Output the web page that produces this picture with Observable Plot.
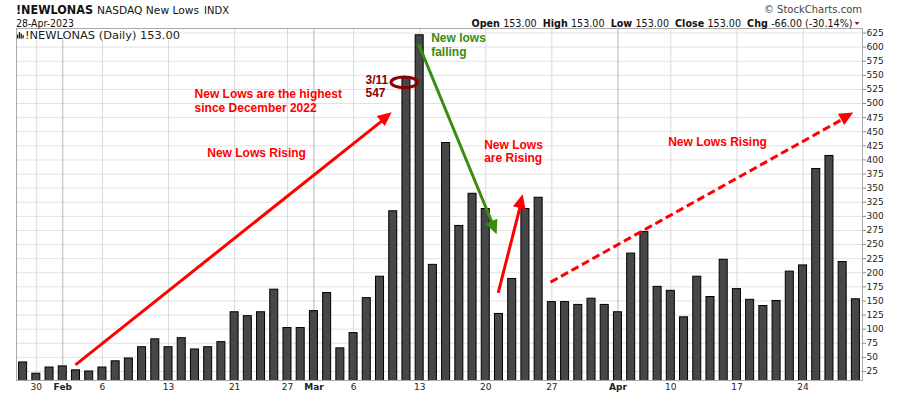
<!DOCTYPE html>
<html><head><meta charset="utf-8">
<script src="https://cdn.jsdelivr.net/npm/d3@7"></script>
<script src="https://cdn.jsdelivr.net/npm/@observablehq/plot@0.6"></script>
<style>
body{margin:0;background:#fff;}
#wrap{width:900px;height:396px;}
</style></head><body><div id="wrap"></div>
<script>
// ---- data ----
const dates = [
"2023-01-27","2023-01-30","2023-01-31",
"2023-02-01","2023-02-02","2023-02-03","2023-02-06","2023-02-07","2023-02-08","2023-02-09","2023-02-10",
"2023-02-13","2023-02-14","2023-02-15","2023-02-16","2023-02-17","2023-02-21","2023-02-22","2023-02-23","2023-02-24",
"2023-02-27","2023-02-28",
"2023-03-01","2023-03-02","2023-03-03","2023-03-06","2023-03-07","2023-03-08","2023-03-09","2023-03-10",
"2023-03-13","2023-03-14","2023-03-15","2023-03-16","2023-03-17","2023-03-20","2023-03-21","2023-03-22","2023-03-23","2023-03-24",
"2023-03-27","2023-03-28","2023-03-29","2023-03-30","2023-03-31",
"2023-04-03","2023-04-04","2023-04-05","2023-04-06","2023-04-10","2023-04-11","2023-04-12","2023-04-13","2023-04-14",
"2023-04-17","2023-04-18","2023-04-19","2023-04-20","2023-04-21","2023-04-24","2023-04-25","2023-04-26","2023-04-27","2023-04-28"];
const newLows = [
41,21,32,
34,27,25,32,43,48,68,82,
68,84,64,68,77,130,123,130,170,
102,102,
132,164,66,93,155,193,309,547,
621,214,430,283,340,313,127,189,313,333,
148,148,143,154,143,
130,234,272,175,168,121,193,157,223,
171,152,141,150,202,213,384,407,219,153];

const dayTickDates = ["2023-01-30","2023-02-06","2023-02-13","2023-02-21","2023-02-27","2023-03-06","2023-03-13","2023-03-20","2023-03-27","2023-04-10","2023-04-17","2023-04-24"];
const dayTickLabels = ["30","6","13","21","27","6","13","20","27","10","17","24"];
const monthTickDates = ["2023-02-01","2023-03-01","2023-04-03"];
const monthTickLabels = ["Feb","Mar","Apr"];
const yTicks = [25,50,75,100,125,150,175,200,225,250,275,300,325,350,375,400,425,450,475,500,525,550,575,600,625];

// annotation arrows (bar index, value)
const arrowStart = [[3.96,36.8],[29.93,604.6],[35.94,164.5],[39.9,183.3]];
const arrowEnd   = [[27.92,483.6],[35.86,267.3],[37.83,338.2],[62.84,483.2]];
const arrowColor = ["#ff0000","#3a8c0c","#ff0000","#ff0000"];
const arrowDashed = [false,false,false,true];

const noteText = ["New Lows are the highest\nsince December 2022","New Lows Rising","3/11\n547","New lows\nfalling","New Lows\nare Rising","New Lows Rising"];
const noteX = [12.97,13.93,25.9,30.87,34.88,48.8];
const noteY = [504.8,411.9,530.5,604.1,415.8,431.4];
const noteColor = ["#ff0000","#ff0000","#8b0000","#3a8c0c","#ff0000","#ff0000"];
const circleAt = [28.87,536.7];

// ---- build ----
const rows = dates.map((d,i)=>({i, date:d, value:newLows[i]}));
const idx = d => dates.indexOf(d);
const dayIdx = dayTickDates.map(idx);
const monthIdx = monthTickDates.map(idx);
const arrows = arrowStart.map((s,k)=>({x1:s[0],y1:s[1],x2:arrowEnd[k][0],y2:arrowEnd[k][1],color:arrowColor[k],dashed:arrowDashed[k]}));
const notes = noteText.map((t,k)=>({text:t,x:noteX[k],y:noteY[k],color:noteColor[k]}));

const chart = Plot.plot({
  width: 900, height: 396,
  marginLeft: 16, marginRight: 38, marginTop: 28, marginBottom: 16,
  x: {type:"linear", domain:[-0.5, dates.length-0.5]},
  y: {domain:[9,633]},
  color: {type:"identity"},
  style: {fontFamily:"DejaVu Sans", fontSize:"9px", color:"#222", background:"#fff"},
  marks: [
    Plot.gridY({ticks: yTicks, stroke:"#e2e2e2", strokeOpacity:1}),
    Plot.gridX({ticks: dayIdx, stroke:"#dadada", strokeOpacity:1}),
    Plot.gridX({ticks: monthIdx, stroke:"#b8b8b8", strokeOpacity:1}),
    Plot.rectY(rows, {x1:d=>d.i-0.5, x2:d=>d.i+0.5, y1:0, y2:"value", insetLeft:2.6, insetRight:2.6,
      fill:"#474747", stroke:"#000", strokeWidth:1, clip:true}),
    Plot.frame({stroke:"#aaa"}),
    Plot.axisY({ticks: yTicks, anchor:"right", tickSize:3, tickPadding:1, stroke:"#888", fill:"#222", label:null, tickFormat:d=>String(d)}),
    Plot.axisX({ticks: dayIdx, tickSize:0, tickPadding:3, label:null, fill:"#222", tickFormat:i=>dayTickLabels[dayIdx.indexOf(i)]}),
    Plot.axisX({ticks: monthIdx, tickSize:0, tickPadding:3, label:null, fill:"#222", fontWeight:"bold", tickFormat:i=>monthTickLabels[monthIdx.indexOf(i)]}),
    Plot.arrow(arrows.filter(d=>!d.dashed), {x1:"x1",y1:"y1",x2:"x2",y2:"y2",stroke:"color",strokeWidth:3,headLength:0,insetEnd:9,strokeLinecap:"butt"}),
    Plot.arrow(arrows.filter(d=>d.dashed), {x1:"x1",y1:"y1",x2:"x2",y2:"y2",stroke:"color",strokeWidth:3,headLength:0,insetEnd:9,strokeLinecap:"butt",strokeDasharray:"8,4"}),
    Plot.text(notes, {x:"x", y:"y", text:"text", fill:"color", fontWeight:"bold", fontSize:12,
      fontFamily:"Liberation Sans, Arial, sans-serif", textAnchor:"start", lineHeight:1.1})
  ]
});
document.getElementById("wrap").appendChild(chart);

// ---- overlays using the plot's own scales ----
const xs = chart.scale("x"), ys = chart.scale("y");
const sx = d3.scaleLinear(xs.domain, xs.range), sy = d3.scaleLinear(ys.domain, ys.range);
const svg = d3.select(chart);

// arrow heads
arrows.forEach(a=>{
  const x0=sx(a.x1), y0=sy(a.y1), x1=sx(a.x2), y1=sy(a.y2);
  const L=Math.hypot(x1-x0,y1-y0), ux=(x1-x0)/L, uy=(y1-y0)/L, nx=-uy, ny=ux;
  const hl=14, hw=6.5;
  const bx=x1-ux*hl, by=y1-uy*hl;
  svg.append("polygon").attr("points",`${x1},${y1} ${bx+nx*hw},${by+ny*hw} ${bx-nx*hw},${by-ny*hw}`).attr("fill",a.color);
});
// ellipse around the 3/10 bar top
svg.append("ellipse").attr("cx",sx(circleAt[0])).attr("cy",sy(circleAt[1])).attr("rx",13.2).attr("ry",5.4)
  .attr("fill","none").attr("stroke","#8b0000").attr("stroke-width",3);

// legend inside plot
const lg = svg.append("g").attr("text-anchor","start");
lg.append("rect").attr("x",17).attr("y",29).attr("width",164).attr("height",11).attr("fill","#fff");
[[17,34.5,1.3,4],[18.8,32,1.3,6.5],[20.6,33.5,1.3,5],[22.4,35,1.3,3.5]].forEach(r=>
  lg.append("rect").attr("x",r[0]).attr("y",r[1]).attr("width",r[2]).attr("height",r[3]).attr("fill","#222"));
lg.append("text").attr("x",25).attr("y",38.5).attr("font-family","DejaVu Sans").attr("font-size",10)
  .attr("fill","#222").attr("textLength",155).attr("lengthAdjust","spacingAndGlyphs").text("!NEWLONAS (Daily) 153.00");

// header
const hd = svg.append("g").attr("font-family","DejaVu Sans").attr("fill","#111").attr("text-anchor","start");
hd.append("text").attr("x",16).attr("y",13.5).attr("font-size",11.5).attr("font-weight","bold")
  .attr("textLength",77).attr("lengthAdjust","spacingAndGlyphs").text("!NEWLONAS");
hd.append("text").attr("x",97).attr("y",13.5).attr("font-size",10)
  .attr("textLength",102).attr("lengthAdjust","spacingAndGlyphs").text("NASDAQ New Lows");
hd.append("text").attr("x",204).attr("y",13.5).attr("font-size",10)
  .attr("textLength",25).attr("lengthAdjust","spacingAndGlyphs").text("INDX");
hd.append("text").attr("x",16).attr("y",26.5).attr("font-size",10)
  .attr("textLength",58).attr("lengthAdjust","spacingAndGlyphs").text("28-Apr-2023");
hd.append("text").attr("x",862).attr("y",13).attr("font-size",10).attr("fill","#444").attr("text-anchor","end")
  .text("\u00A9 StockCharts.com");
const ohlc = hd.append("text").attr("x",471.5).attr("y",26.5).attr("font-size",10).attr("text-anchor","start")
  .attr("textLength",381).attr("lengthAdjust","spacingAndGlyphs");
[["Open ",true],["153.00  ",false],["High ",true],["153.00  ",false],["Low ",true],["153.00  ",false],
 ["Close ",true],["153.00  ",false],["Chg ",true],["-66.00 (-30.14%)",false]].forEach(p=>
  ohlc.append("tspan").attr("font-weight",p[1]?"bold":"normal").attr("xml:space","preserve").text(p[0]));
hd.append("polygon").attr("points","854.5,22 859.5,22 857,25").attr("fill","#8b1a2a");
</script>
</body></html>
